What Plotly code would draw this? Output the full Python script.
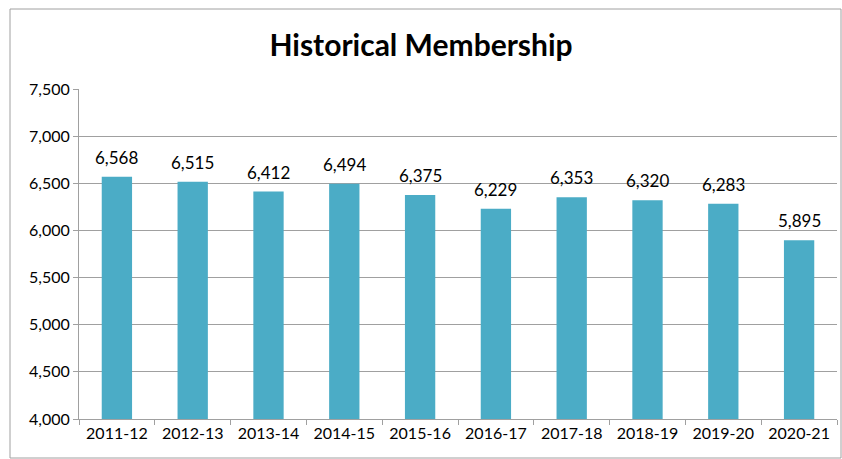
import plotly.graph_objects as go

categories = ["2011-12", "2012-13", "2013-14", "2014-15", "2015-16",
              "2016-17", "2017-18", "2018-19", "2019-20", "2020-21"]
members = [6568, 6515, 6412, 6494, 6375, 6229, 6353, 6320, 6283, 5895]
y_ticks = [4000, 4500, 5000, 5500, 6000, 6500, 7000, 7500]

W, H = 842, 459
L, R, T, B = 79, 5, 89, 40
pw, ph = W - L - R, H - T - B

fig = go.Figure(go.Bar(
    x=categories, y=members,
    marker=dict(color="#4BACC6", line=dict(width=0)),
    cliponaxis=False,
    hoverinfo="skip",
))

annotations = [dict(x=c, y=v, xref="x", yref="y", text=f"{v:,}", showarrow=False,
                    yanchor="bottom", yshift=7,
                    font=dict(size=17, color="#000000", family="Lato"))
               for c, v in zip(categories, members)]

fig.update_layout(
    width=W, height=H,
    margin=dict(l=L, r=R, t=T, b=B, autoexpand=False),
    paper_bgcolor="white", plot_bgcolor="white",
    font=dict(family="Lato", size=16, color="#000000"),
    title=dict(text="<b>Historical Membership</b>", x=0.5, xanchor="center",
               y=1 - 45 / H, yanchor="middle",
               font=dict(size=30, family="Lato", color="#000000")),
    bargap=0.6,
    showlegend=False,
    annotations=annotations,
    xaxis=dict(type="category", automargin=False, showline=True, linecolor="#A0A0A0", linewidth=1,
               ticks="outside", tickson="boundaries", ticklen=5, tickcolor="#A0A0A0",
               showgrid=False, tickfont=dict(size=16)),
    yaxis=dict(range=[4000, 7500], tickvals=y_ticks, tickformat=",", automargin=False,
               showline=True, linecolor="#A0A0A0", linewidth=1,
               ticks="outside", ticklen=5, tickcolor="#A0A0A0",
               showgrid=True, gridcolor="#A0A0A0", gridwidth=1,
               zeroline=False, tickfont=dict(size=16)),
    shapes=[dict(type="rect", xref="paper", yref="paper",
                 x0=(10 - L) / pw, x1=(W - 1 - L) / pw,
                 y0=(T + ph - (H - 1)) / ph, y1=(T + ph - 9) / ph,
                 line=dict(color="#A0A0A0", width=1), fillcolor="rgba(0,0,0,0)",
                 layer="below")],
)

fig.write_html("out.html", config={"displayModeBar": False},
               post_script="document.body.style.margin='0';document.body.style.overflow='hidden';")
